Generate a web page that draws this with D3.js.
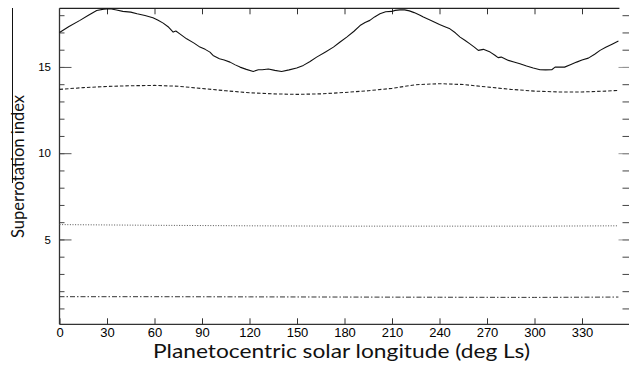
<!DOCTYPE html>
<html>
<head>
<meta charset="utf-8">
<script src="https://cdn.jsdelivr.net/npm/d3@7/dist/d3.min.js"></script>
<style>
  body { margin: 0; background: #fff; }
  svg { display: block; }
  .tick text { font-family: "Liberation Sans", Arial, sans-serif; fill: #000; }
  .title { font-family: Lato, "Open Sans", sans-serif; fill: #111; }
</style>
</head>
<body>
<div id="vis"></div>
<script>
// series (Ls in degrees, superrotation index)
var solidLs = [0, 6, 12.9, 18, 23.5, 28, 32, 36, 40, 45, 49, 54, 59, 62, 65.5, 69, 71.8, 73.5, 76, 80.3,
  85, 88.7, 92, 95, 97, 101, 104, 107.7, 111, 114, 118, 122.4, 125.6, 128, 131.9, 136, 140.3, 145,
  149.8, 154, 158, 162.4, 168, 173, 177, 181.4, 186, 189.8, 193, 196, 199, 202.4, 206, 209.8, 212,
  215, 218, 221, 224, 227.7, 229.8, 235, 240, 243, 246.6, 250, 253, 256, 259, 262, 264.5, 267.7,
  272, 275, 277, 279, 283.5, 287, 290.8, 295, 299.2, 303.5, 307, 310.9, 313, 316, 319, 323, 326.6,
  330, 334, 338, 341.4, 345, 349, 353];
var solidVal = [17.00, 17.35, 17.70, 17.98, 18.27, 18.35, 18.37, 18.30, 18.22, 18.18, 18.08, 17.98,
  17.85, 17.72, 17.54, 17.30, 17.02, 17.08, 16.92, 16.63, 16.38, 16.15, 16.02, 15.86, 15.67, 15.48,
  15.40, 15.28, 15.12, 14.99, 14.86, 14.74, 14.84, 14.84, 14.88, 14.80, 14.74, 14.83, 14.94, 15.09,
  15.30, 15.57, 15.87, 16.15, 16.43, 16.73, 17.07, 17.40, 17.58, 17.70, 17.90, 18.08, 18.20, 18.22,
  18.28, 18.31, 18.31, 18.25, 18.15, 18.00, 17.89, 17.68, 17.46, 17.35, 17.21, 16.98, 16.73, 16.55,
  16.35, 16.15, 15.96, 16.02, 15.86, 15.68, 15.54, 15.57, 15.38, 15.29, 15.19, 15.06, 14.94, 14.84,
  14.83, 14.84, 14.99, 15.00, 14.99, 15.14, 15.28, 15.40, 15.51, 15.74, 15.96, 16.14, 16.32, 16.50];

var dashedLs = [0, 15, 30, 45, 60, 75, 90, 105, 120, 135, 150, 165, 180, 195, 210, 225, 240, 255,
  270, 285, 300, 315, 330, 345, 353];
var dashedVal = [13.70, 13.80, 13.87, 13.91, 13.93, 13.88, 13.75, 13.62, 13.50, 13.44, 13.41, 13.44,
  13.52, 13.62, 13.76, 13.97, 14.03, 13.98, 13.84, 13.70, 13.60, 13.55, 13.55, 13.60, 13.64];

var dottedLs = [0, 60, 120, 180, 240, 300, 353];
var dottedVal = [5.86, 5.82, 5.79, 5.77, 5.77, 5.77, 5.79];

var dashDotLs = [0, 60, 120, 180, 240, 300, 353];
var dashDotVal = [1.68, 1.68, 1.67, 1.66, 1.65, 1.64, 1.66];

var xTicks = d3.range(0, 331, 30);
var yMajor = [5, 10, 15];
var yMinor = d3.range(1, 19);

var width = 629, height = 365;

var x = d3.scaleLinear().domain([0, 360]).range([59.5, 629.5]);
var y = d3.scaleLinear().domain([0.08, 18.4]).range([324.3, 8.3]);

var svg = d3.select('#vis').append('svg')
  .attr('width', width)
  .attr('height', height);

svg.append('rect').attr('width', width).attr('height', height).attr('fill', '#fff');

function pairs(ls, vals) {
  return ls.map(function (d, i) { return [d, vals[i]]; });
}

var line = d3.line()
  .x(function (d) { return x(d[0]); })
  .y(function (d) { return y(d[1]); });

// minor + major ticks, all pointing inward
svg.append('g').attr('transform', 'translate(' + x(0) + ',0)')
  .call(d3.axisLeft(y).tickValues(yMinor).tickSizeInner(-5).tickSizeOuter(0).tickFormat(''))
  .call(function (g) { g.select('.domain').remove(); g.selectAll('line').attr('stroke', '#444'); });

svg.append('g').attr('transform', 'translate(' + x(0) + ',0)')
  .call(d3.axisLeft(y).tickValues(yMajor).tickSizeInner(-12).tickSizeOuter(0).tickPadding(8.5))
  .call(function (g) {
    g.select('.domain').remove();
    g.selectAll('line').attr('stroke', '#555');
    g.selectAll('text').style('font-size', '11.5px');
  });

svg.append('g').attr('transform', 'translate(' + x(360) + ',0)')
  .call(d3.axisRight(y).tickValues(yMinor).tickSizeInner(-7).tickSizeOuter(0).tickFormat(''))
  .call(function (g) { g.select('.domain').remove(); g.selectAll('line').attr('stroke', '#444'); });

svg.append('g').attr('transform', 'translate(' + x(360) + ',0)')
  .call(d3.axisRight(y).tickValues(yMajor).tickSizeInner(-11).tickSizeOuter(0).tickFormat(''))
  .call(function (g) { g.select('.domain').remove(); g.selectAll('line').attr('stroke', '#999'); });

svg.append('g').attr('transform', 'translate(0,' + y(0.08) + ')')
  .call(d3.axisBottom(x).tickValues(xTicks).tickSizeInner(-6).tickSizeOuter(0).tickPadding(3))
  .call(function (g) {
    g.select('.domain').remove();
    g.selectAll('line').attr('stroke', '#333');
    g.selectAll('text').style('font-size', '13px');
  });

svg.append('g').attr('transform', 'translate(0,' + y(18.4) + ')')
  .call(d3.axisTop(x).tickValues(xTicks.slice(1)).tickSizeInner(-6).tickSizeOuter(0).tickFormat(''))
  .call(function (g) { g.select('.domain').remove(); g.selectAll('line').attr('stroke', '#333'); });

// frame
svg.append('line')
  .attr('x1', x(0)).attr('x2', x(0)).attr('y1', y(18.4)).attr('y2', y(0.08))
  .attr('stroke', '#333').attr('stroke-width', 1.3);
svg.append('line')
  .attr('x1', x(0)).attr('x2', x(360)).attr('y1', y(0.08)).attr('y2', y(0.08))
  .attr('stroke', '#333').attr('stroke-width', 1.3);
svg.append('line')
  .attr('x1', x(0)).attr('x2', x(solidLs[solidLs.length - 1]) + 1).attr('y1', y(18.4)).attr('y2', y(18.4))
  .attr('stroke', '#222').attr('stroke-width', 1.2);

// the four series
svg.append('path').datum(pairs(dashDotLs, dashDotVal))
  .attr('d', line).attr('fill', 'none')
  .attr('stroke', '#333').attr('stroke-width', 1)
  .attr('stroke-dasharray', '5,2,1.5,2');

svg.append('path').datum(pairs(dottedLs, dottedVal))
  .attr('d', line).attr('fill', 'none')
  .attr('stroke', '#555').attr('stroke-width', 1)
  .attr('stroke-dasharray', '1,1.6');

svg.append('path').datum(pairs(dashedLs, dashedVal))
  .attr('d', line).attr('fill', 'none')
  .attr('stroke', '#222').attr('stroke-width', 1.1)
  .attr('stroke-dasharray', '3.5,2');

svg.append('path').datum(pairs(solidLs, solidVal))
  .attr('d', line).attr('fill', 'none')
  .attr('stroke', '#111').attr('stroke-width', 1.1)
  .attr('stroke-linejoin', 'round');

// titles
svg.append('text').attr('class', 'title')
  .attr('x', 341.5).attr('y', 358.3)
  .attr('text-anchor', 'middle')
  .attr('font-size', 20)
  .attr('textLength', 377).attr('lengthAdjust', 'spacingAndGlyphs')
  .text('Planetocentric solar longitude (deg Ls)');

svg.append('text').attr('class', 'title')
  .attr('transform', 'translate(24,166.5) rotate(-90)')
  .attr('text-anchor', 'middle')
  .attr('font-size', 17)
  .attr('textLength', 143).attr('lengthAdjust', 'spacingAndGlyphs')
  .text('Superrotation index');

// stray rule left of the y title, as in the source image
svg.append('line')
  .attr('x1', 12.5).attr('x2', 12.5).attr('y1', 8).attr('y2', 183)
  .attr('stroke', '#111').attr('stroke-width', 1);
</script>
</body>
</html>
